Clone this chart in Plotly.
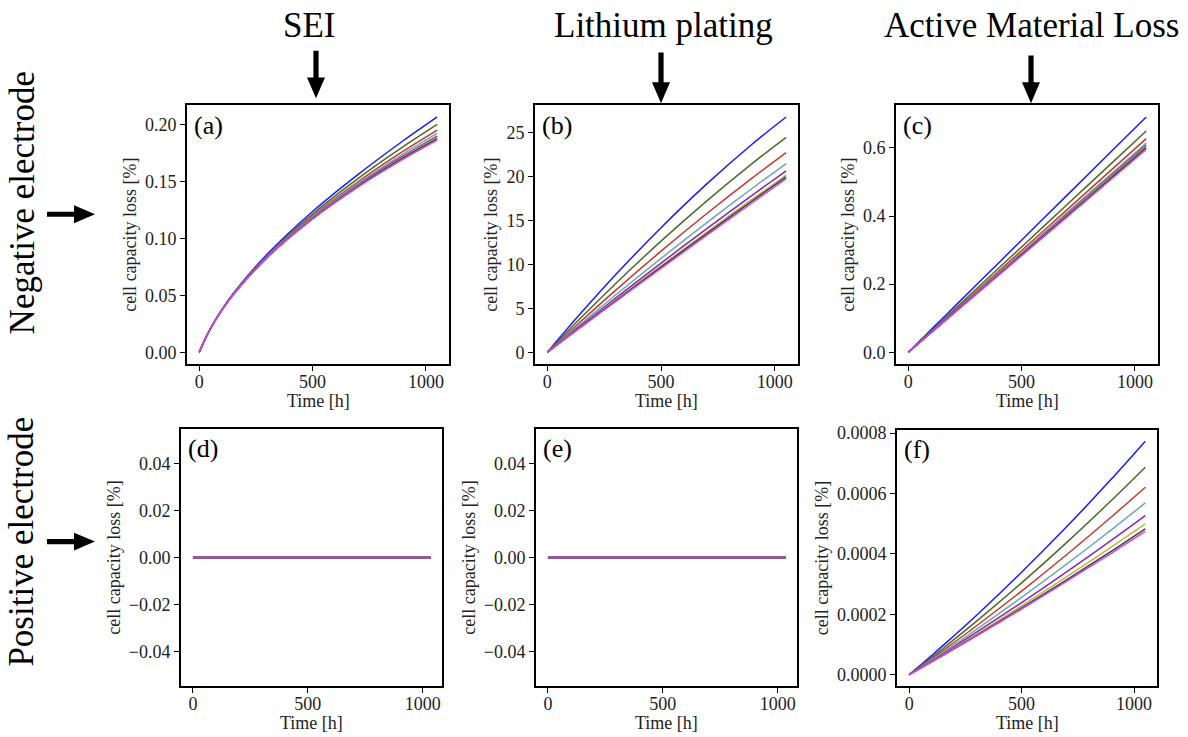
import plotly.graph_objects as go

W, H = 1188, 737
FONT = "Liberation Serif, Times New Roman, Times, DejaVu Serif, serif"

# ---------------- data ----------------
time_h = [0, 20, 50, 100, 150, 300, 500, 700, 900, 1050]
time_flat = [0, 1035]

series_names = ["case 1", "case 2", "case 3", "case 4", "case 5", "case 6", "case 7", "case 8"]
series_colors = ["#1a1aff", "#4a6b2a", "#c8372d", "#6aaab0", "#8a22b8", "#b5b83a", "#3d3d3d", "#cc44f5"]

# (a) negative electrode, SEI
sei_neg = [
    [0, 0.0093, 0.0211, 0.0376, 0.0516, 0.0862, 0.1236, 0.1560, 0.1857, 0.2066],
    [0, 0.0092, 0.0210, 0.0374, 0.0512, 0.0852, 0.1214, 0.1525, 0.1805, 0.2000],
    [0, 0.0092, 0.0210, 0.0373, 0.0510, 0.0844, 0.1198, 0.1497, 0.1765, 0.1950],
    [0, 0.0092, 0.0210, 0.0372, 0.0508, 0.0840, 0.1188, 0.1482, 0.1742, 0.1921],
    [0, 0.0092, 0.0209, 0.0371, 0.0507, 0.0836, 0.1181, 0.1469, 0.1724, 0.1898],
    [0, 0.0092, 0.0209, 0.0371, 0.0506, 0.0835, 0.1177, 0.1463, 0.1714, 0.1886],
    [0, 0.0092, 0.0209, 0.0370, 0.0506, 0.0833, 0.1173, 0.1457, 0.1706, 0.1875],
    [0, 0.0092, 0.0209, 0.0370, 0.0505, 0.0831, 0.1169, 0.1450, 0.1696, 0.1863],
]
# (b) negative electrode, lithium plating
plating_neg = [
    [0, 0.616, 1.532, 3.039, 4.520, 8.810, 14.170, 19.120, 23.660, 26.76],
    [0, 0.540, 1.345, 2.673, 3.983, 7.803, 12.643, 17.195, 21.457, 24.44],
    [0, 0.484, 1.205, 2.399, 3.580, 7.048, 11.498, 15.751, 19.806, 22.70],
    [0, 0.443, 1.105, 2.203, 3.292, 6.510, 10.682, 14.721, 18.628, 21.46],
    [0, 0.416, 1.039, 2.074, 3.102, 6.153, 10.141, 14.040, 17.848, 20.64],
    [0, 0.400, 1.000, 1.997, 2.989, 5.941, 9.820, 13.634, 17.384, 20.15],
    [0, 0.394, 0.985, 1.967, 2.945, 5.858, 9.695, 13.476, 17.204, 19.96],
    [0, 0.387, 0.967, 1.932, 2.894, 5.763, 9.550, 13.294, 16.995, 19.74],
]
# (c) negative electrode, active material loss
am_neg = [
    [0, 0.01316, 0.03290, 0.06581, 0.09871, 0.19743, 0.32905, 0.46067, 0.59229, 0.6910],
    [0, 0.01238, 0.03094, 0.06188, 0.09281, 0.18563, 0.30938, 0.43313, 0.55689, 0.6497],
    [0, 0.01195, 0.02987, 0.05974, 0.08961, 0.17923, 0.29871, 0.41820, 0.53769, 0.6273],
    [0, 0.01170, 0.02924, 0.05848, 0.08771, 0.17543, 0.29238, 0.40933, 0.52629, 0.6140],
    [0, 0.01159, 0.02898, 0.05795, 0.08693, 0.17386, 0.28976, 0.40567, 0.52157, 0.6085],
    [0, 0.01152, 0.02881, 0.05762, 0.08643, 0.17286, 0.28810, 0.40333, 0.51857, 0.6050],
    [0, 0.01145, 0.02862, 0.05724, 0.08586, 0.17171, 0.28619, 0.40067, 0.51514, 0.6010],
    [0, 0.01134, 0.02836, 0.05671, 0.08507, 0.17014, 0.28357, 0.39700, 0.51043, 0.5955],
]
# (d), (e) positive electrode SEI / plating: zero
sei_pos = [[0.0, 0.0] for _ in range(8)]
plating_pos = [[0.0, 0.0] for _ in range(8)]
# (f) positive electrode, active material loss
am_pos = [
    [0, 0.1255e-4, 0.3153e-4, 0.6360e-4, 0.9619e-4, 1.9715e-4, 3.3920e-4, 4.8970e-4, 6.4870e-4, 7.7350e-4],
    [0, 0.1135e-4, 0.2851e-4, 0.5745e-4, 0.8680e-4, 1.7740e-4, 3.0411e-4, 4.3754e-4, 5.7774e-4, 6.8730e-4],
    [0, 0.1043e-4, 0.2619e-4, 0.5272e-4, 0.7959e-4, 1.6221e-4, 2.7713e-4, 3.9743e-4, 5.2317e-4, 6.2100e-4],
    [0, 0.0971e-4, 0.2437e-4, 0.4902e-4, 0.7393e-4, 1.5032e-4, 2.5600e-4, 3.6603e-4, 4.8044e-4, 5.6910e-4],
    [0, 0.0913e-4, 0.2290e-4, 0.4603e-4, 0.6936e-4, 1.4070e-4, 2.3890e-4, 3.4061e-4, 4.4587e-4, 5.2710e-4],
    [0, 0.0875e-4, 0.2194e-4, 0.4406e-4, 0.6636e-4, 1.3438e-4, 2.2768e-4, 3.2393e-4, 4.2317e-4, 4.9950e-4],
    [0, 0.0852e-4, 0.2136e-4, 0.4288e-4, 0.6456e-4, 1.3060e-4, 2.2096e-4, 3.1394e-4, 4.0958e-4, 4.8300e-4],
    [0, 0.0841e-4, 0.2108e-4, 0.4231e-4, 0.6369e-4, 1.2877e-4, 2.1770e-4, 3.0910e-4, 4.0300e-4, 4.7500e-4],
]

col_titles = ["SEI", "Lithium plating", "Active Material Loss"]
row_titles = ["Negative electrode", "Positive electrode"]
panel_labels = ["(a)", "(b)", "(c)", "(d)", "(e)", "(f)"]
x_title = "Time [h]"
y_title = "cell capacity loss [%]"
x_ticks = [0, 500, 1000]

# ---------------- layout helpers ----------------
def px_x(p):
    return p / W

def px_y(p):
    return 1 - p / H

panels = [
    dict(data=sei_neg, t=time_h, xd=(187, 449), yd=(100, 361), yr=[-0.01033, 0.2169],
         yt=[0, 0.05, 0.10, 0.15, 0.20], ytl=["0.00", "0.05", "0.10", "0.15", "0.20"], xr=[-54, 1102]),
    dict(data=plating_neg, t=time_h, xd=(535, 798), yd=(100, 361), yr=[-1.338, 28.1],
         yt=[0, 5, 10, 15, 20, 25], ytl=["0", "5", "10", "15", "20", "25"], xr=[-54, 1102]),
    dict(data=am_neg, t=time_h, xd=(896, 1158), yd=(100, 361), yr=[-0.0346, 0.7256],
         yt=[0, 0.2, 0.4, 0.6], ytl=["0.0", "0.2", "0.4", "0.6"], xr=[-54, 1102]),
    dict(data=sei_pos, t=time_flat, xd=(181, 442), yd=(426, 686), yr=[-0.055, 0.055],
         yt=[-0.04, -0.02, 0, 0.02, 0.04], ytl=["\u22120.04", "\u22120.02", "0.00", "0.02", "0.04"], xr=[-52, 1084]),
    dict(data=plating_pos, t=time_flat, xd=(536, 797), yd=(426, 686), yr=[-0.055, 0.055],
         yt=[-0.04, -0.02, 0, 0.02, 0.04], ytl=["\u22120.04", "\u22120.02", "0.00", "0.02", "0.04"], xr=[-52, 1084]),
    dict(data=am_pos, t=time_h, xd=(897, 1157), yd=(427, 686), yr=[-0.0000387, 0.000812],
         yt=[0, 0.0002, 0.0004, 0.0006, 0.0008], ytl=["0.0000", "0.0002", "0.0004", "0.0006", "0.0008"], xr=[-54, 1102]),
]

fig = go.Figure()
layout = dict(
    width=W, height=H, margin=dict(l=0, r=0, t=0, b=0),
    paper_bgcolor="white", plot_bgcolor="white", showlegend=False,
    font=dict(family=FONT, color="#111", size=18),
)

for i, p in enumerate(panels):
    k = i + 1
    xa = "x" if k == 1 else f"x{k}"
    ya = "y" if k == 1 else f"y{k}"
    flat = p["t"] is time_flat
    for s in range(8):
        fig.add_trace(go.Scatter(
            x=p["t"], y=p["data"][s], mode="lines", name=series_names[s],
            line=dict(color=series_colors[s], width=2.4 if flat else 1.5,
                      shape="spline", smoothing=0.8),
            opacity=0.5 if flat else 1.0,
            xaxis=xa, yaxis=ya, hoverinfo="skip"))
    axcommon = dict(showgrid=False, zeroline=False, showline=True, mirror=True,
                    linecolor="black", linewidth=1.8, ticks="outside", ticklen=5,
                    tickwidth=1.3, tickcolor="black",
                    tickfont=dict(family=FONT, size=18, color="#222"))
    layout["xaxis" if k == 1 else f"xaxis{k}"] = dict(
        domain=[px_x(p["xd"][0]), px_x(p["xd"][1])], anchor=ya, range=p["xr"],
        tickvals=x_ticks, ticktext=[str(v) for v in x_ticks], ticklabelstandoff=-5,
        **axcommon)
    layout["yaxis" if k == 1 else f"yaxis{k}"] = dict(
        domain=[px_y(p["yd"][1]), px_y(p["yd"][0])], anchor=xa, range=p["yr"],
        tickvals=p["yt"], ticktext=p["ytl"],
        title=dict(text=y_title, font=dict(family=FONT, size=18, color="#222"), standoff=4),
        **axcommon)

fig.update_layout(**layout)

ann = []
for i, lab in enumerate(panel_labels):
    k = i + 1
    xa = "x" if k == 1 else f"x{k}"
    ya = "y" if k == 1 else f"y{k}"
    ann.append(dict(text=lab, xref=f"{xa} domain", yref=f"{ya} domain", x=0.02, y=0.985,
                    xanchor="left", yanchor="top", showarrow=False,
                    font=dict(family=FONT, size=26, color="black")))
    ann.append(dict(text=x_title, xref=f"{xa} domain", yref=f"{ya} domain", x=0.5, y=0,
                    yshift=-37, xanchor="center", yanchor="middle", showarrow=False,
                    font=dict(family=FONT, size=18, color="#222")))

col_x = [309, 663, 1031]
for t, cx in zip(col_titles, col_x):
    ann.append(dict(text=t, xref="paper", yref="paper", x=px_x(cx), y=px_y(20),
                    xanchor="center", yanchor="middle", showarrow=False,
                    font=dict(family=FONT, size=35, color="black")))
row_y = [199, 540]
for t, cy in zip(row_titles, row_y):
    ann.append(dict(text=t, xref="paper", yref="paper", x=px_x(22), y=px_y(cy),
                    xanchor="center", yanchor="middle", textangle=-90, showarrow=False,
                    font=dict(family=FONT, size=35, color="black")))
fig.update_layout(annotations=ann)

def down_arrow(cx, y0, y1, sw=2.6, hl=21, hw=9):
    pts = [(cx - sw, y0), (cx + sw, y0), (cx + sw, y1 - hl), (cx + hw, y1 - hl),
           (cx, y1), (cx - hw, y1 - hl), (cx - sw, y1 - hl)]
    return "M " + " L ".join(f"{px_x(a):.5f},{px_y(b):.5f}" for a, b in pts) + " Z"

def right_arrow(cy, x0, x1, sw=2.6, hl=21, hw=9):
    pts = [(x0, cy - sw), (x0, cy + sw), (x1 - hl, cy + sw), (x1 - hl, cy + hw),
           (x1, cy), (x1 - hl, cy - hw), (x1 - hl, cy - sw)]
    return "M " + " L ".join(f"{px_x(a):.5f},{px_y(b):.5f}" for a, b in pts) + " Z"

shapes = []
for cx, y0, y1 in [(316, 45, 93), (661, 47, 98), (1031, 50, 98)]:
    shapes.append(dict(type="path", xref="paper", yref="paper", path=down_arrow(cx, y0, y1),
                       fillcolor="black", line=dict(width=0)))
for cy in [210, 540]:
    shapes.append(dict(type="path", xref="paper", yref="paper", path=right_arrow(cy, 47, 95),
                       fillcolor="black", line=dict(width=0)))
fig.update_layout(shapes=shapes)

fig.write_html("out.html")
